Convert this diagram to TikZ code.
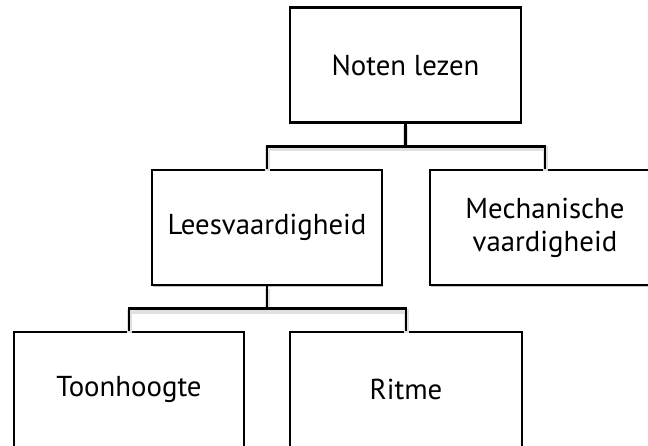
\documentclass[tikz,border=0pt]{standalone}
\usepackage{fontspec}
\setmainfont{PT Sans}
\usetikzlibrary{calc,shadows}
\begin{document}
\begin{tikzpicture}[x=1pt,y=-1pt,
  box/.style={draw=black, line width=2.6pt, fill=white, minimum height=115pt,
    inner sep=0pt, align=center, font=\fontsize{28.8}{33}\selectfont,
    drop shadow={shadow xshift=1pt, shadow yshift=-1.5pt, opacity=0.25, fill=black}},
  conn/.style={draw=black, line width=2.6pt,
    preaction={draw=black!12, line width=5pt, transform canvas={yshift=-2.5pt}}}]
\clip (0,0) rectangle (648,445);
\fill[white] (0,0) rectangle (648,445);
\node[box, minimum width=231pt] (top)  at (405.5,65)   {Noten lezen};
\node[box, minimum width=230pt] (lees) at (267,227.5)  {Leesvaardigheid};
\node[box, minimum width=230pt] (mech) at (545,227.5)  {Mechanische\\vaardigheid};
\node[box, minimum width=230pt] (toon) at (129,389.5)  {Toonhoogte};
\node[box, minimum width=232pt] (rit)  at (406,389.5)  {Ritme};
\coordinate (j1) at ($(top.south)!0.5!(lees.north)$);
\coordinate (j2) at ($(lees.south)!0.5!(toon.north)$);
\draw[conn] (top.south) -- (top.south |- j1);
\draw[conn] (lees.north) -- (lees.north |- j1) -| (mech.north);
\draw[conn] (lees.south) -- (lees.south |- j2);
\draw[conn] (toon.north) -- (toon.north |- j2) -| (rit.north);
\end{tikzpicture}
\end{document}
